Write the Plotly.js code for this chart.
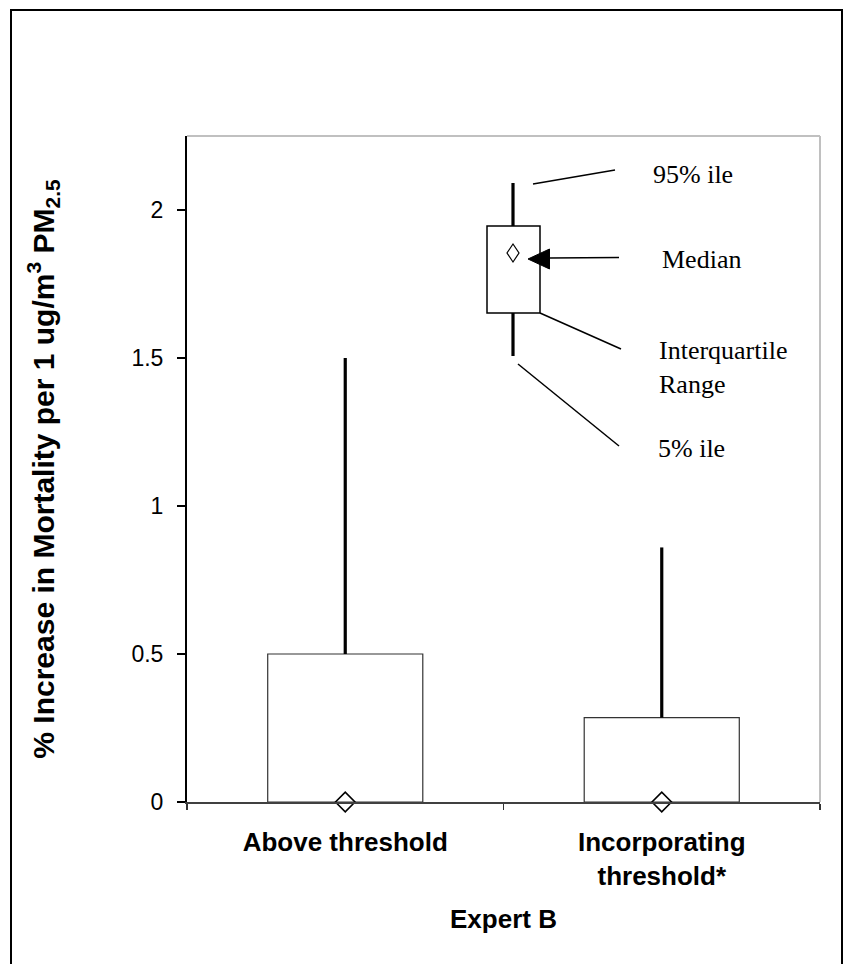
<!DOCTYPE html>
<html>
<head>
<meta charset="utf-8">
<script src="https://cdn.plot.ly/plotly-3.0.1.min.js"></script>
<style>html,body{margin:0;padding:0;background:#fff;}#chart{width:854px;height:964px;}</style>
</head>
<body>
<div id="chart"></div>
<script>
// ---- data ----
const categories = ["Above threshold", "Incorporating threshold*"];
const tickLabels = ["Above threshold", "Incorporating<br>threshold*"];
const p5 = [0, 0];
const q1 = [0, 0];
const median = [0, 0];
const q3 = [0.5, 0.285];
const p95 = [1.5, 0.86];
const yTickVals = [0, 0.5, 1, 1.5, 2];
const yTickText = ["0", "0.5", "1", "1.5", "2"];
const xAxisTitle = "Expert B";
const yAxisTitle = "% Increase in Mortality per 1 ug/m<sup>3</sup> PM<sub>2.5</sub>";
const keyLabels = ["95% ile", "Median", "Interquartile<br>Range", "5% ile"];

// ---- layout helpers (pixel -> paper) ----
const W = 854, H = 964;
const M = {l: 187, r: 34, t: 136, b: 162};
const PW = W - M.l - M.r, PH = H - M.t - M.b;
const px = x => (x - M.l) / PW;
const py = y => (H - M.b - y) / PH;

const sans = "Liberation Sans, Arial, sans-serif";
const serif = "Liberation Serif, Times New Roman, serif";

// ---- traces ----
const boxTrace = {
  type: "bar", x: categories, base: q1,
  y: q3.map((v, i) => v - q1[i]),
  width: 0.49,
  marker: {color: "#ffffff", line: {color: "#333333", width: 1.2}},
  hoverinfo: "skip", showlegend: false
};
const wx = [], wy = [];
categories.forEach((c, i) => {
  wx.push(c, c, null, c, c, null);
  wy.push(q3[i], p95[i], null, p5[i], q1[i], null);
});
const whiskerTrace = {
  type: "scatter", mode: "lines", x: wx, y: wy,
  line: {color: "#000000", width: 3.2}, showlegend: false, hoverinfo: "skip", cliponaxis: false
};
const medianTrace = {
  type: "scatter", mode: "markers", x: categories, y: median,
  marker: {symbol: "diamond-open", size: 15, color: "#000000", line: {width: 1.6, color: "#000000"}},
  showlegend: false, cliponaxis: false
};

// ---- key (explanatory box) drawn as shapes ----
const L = (x0, y0, x1, y1, w) => ({type: "line", xref: "paper", yref: "paper",
  x0: px(x0), y0: py(y0), x1: px(x1), y1: py(y1), line: {color: "#000", width: w || 1.5}});
const shapes = [
  // outer frame
  {type: "rect", xref: "paper", yref: "paper", x0: px(11), y0: py(975), x1: px(842), y1: py(10),
   line: {color: "#000", width: 2}, layer: "below"},
  // grey top / right plot edges
  {type: "line", xref: "paper", yref: "paper", x0: 0, y0: 1, x1: 1, y1: 1, line: {color: "#c0c0c0", width: 2}},
  {type: "line", xref: "paper", yref: "paper", x0: 1, y0: 0, x1: 1, y1: 1, line: {color: "#c0c0c0", width: 2}},
  // key box
  {type: "rect", xref: "paper", yref: "paper", x0: px(487), y0: py(313), x1: px(540), y1: py(226),
   line: {color: "#000", width: 1.5}, fillcolor: "#fff"},
  L(513, 183, 513, 226, 3.2),
  L(513, 313, 513, 356, 3.2),
  {type: "path", xref: "paper", yref: "paper",
   path: `M ${px(513)},${py(244)} L ${px(519)},${py(253)} L ${px(513)},${py(262)} L ${px(507)},${py(253)} Z`,
   line: {color: "#000", width: 1.2}},
  L(533, 184, 615, 170),
  L(549, 258, 619, 257.5),
  {type: "path", xref: "paper", yref: "paper",
   path: `M ${px(528)},${py(259)} L ${px(549.5)},${py(249)} L ${px(549.5)},${py(269)} Z`,
   fillcolor: "#000", line: {color: "#000", width: 1}},
  L(540, 313, 621, 349),
  L(518, 364, 619, 446)
];

const keyPos = [[651, 174], [660, 259], [657, 367], [656, 448]];
const annotations = keyLabels.map((t, i) => ({
  xref: "paper", yref: "paper", x: px(keyPos[i][0]), y: py(keyPos[i][1]),
  xanchor: "left", yanchor: "middle", align: "left", showarrow: false, text: t,
  font: {family: serif, size: 26, color: "#000"}
}));

const layout = {
  width: W, height: H,
  margin: M,
  paper_bgcolor: "#ffffff", plot_bgcolor: "#ffffff",
  showlegend: false,
  bargap: 0,
  xaxis: {
    type: "category", categoryarray: categories, range: [-0.5, 1.5],
    tickvals: categories, ticktext: tickLabels,
    tickson: "boundaries", ticks: "outside", ticklen: 6, tickwidth: 1.5, tickcolor: "#333",
    ticklabelstandoff: 16,
    showline: true, linecolor: "#404040", linewidth: 2,
    showgrid: false, zeroline: false,
    tickfont: {family: sans, size: 26, color: "#000", weight: "bold"},
    title: {text: xAxisTitle, font: {family: sans, size: 26, color: "#000", weight: "bold"}, standoff: 20},
    automargin: false, fixedrange: true
  },
  xaxis2: {
    overlaying: "x", anchor: "y", range: [-0.5, 1.5], type: "linear",
    tickvals: [-0.5, 0.5, 1.5], ticks: "inside", ticklen: 6, tickwidth: 1.5, tickcolor: "#333",
    showticklabels: false, showgrid: false, zeroline: false, showline: false
  },
  yaxis: {
    range: [0, 2.25], tickvals: yTickVals, ticktext: yTickText,
    ticks: "outside", ticklen: 8, tickwidth: 1.5, tickcolor: "#000",
    ticklabelstandoff: 9,
    showline: true, linecolor: "#000", linewidth: 2,
    showgrid: false, zeroline: false,
    tickfont: {family: sans, size: 23, color: "#000"},
    title: {text: yAxisTitle, font: {family: sans, size: 30, color: "#000", weight: "bold"}, standoff: 68},
    automargin: false, fixedrange: true
  },
  yaxis2: {
    overlaying: "y", anchor: "x", range: [0, 2.25], tickvals: yTickVals,
    ticks: "inside", ticklen: 8, tickwidth: 1.5, tickcolor: "#000",
    showticklabels: false, showgrid: false, zeroline: false, showline: false
  },
  shapes: shapes,
  annotations: annotations
};

Plotly.newPlot("chart", [boxTrace, whiskerTrace, medianTrace], layout, {displayModeBar: false, staticPlot: true});
</script>
</body>
</html>
